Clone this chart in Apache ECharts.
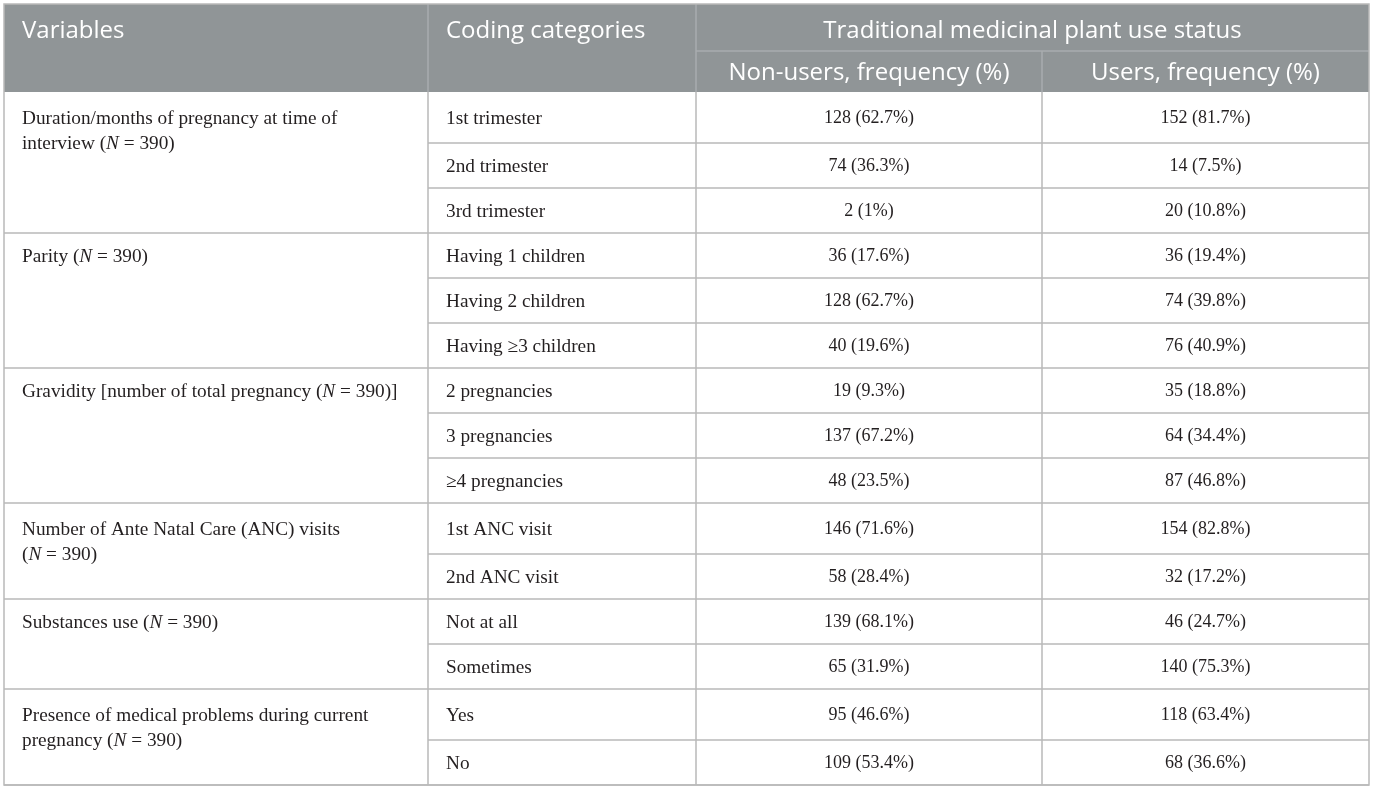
<!DOCTYPE html>
<html>
<head>
<meta charset="utf-8">
<script src="https://cdn.jsdelivr.net/npm/echarts@6/dist/echarts.min.js"></script>
<style>
html,body{margin:0;padding:0;background:#fff;}
#main{width:1375px;height:791px;}
</style>
</head>
<body>
<div id="main"></div>
<script>
// ---- Data ----
const headerTitles = ['Variables', 'Coding categories', 'Traditional medicinal plant use status'];
const subHeaders = ['Non-users, frequency (%)', 'Users, frequency (%)'];
const variableLabels = [
  'Duration/months of pregnancy at time of\ninterview ({i|N} = 390)',
  'Parity ({i|N} = 390)',
  'Gravidity [number of total pregnancy ({i|N} = 390)]',
  'Number of Ante Natal Care (ANC) visits\n({i|N} = 390)',
  'Substances use ({i|N} = 390)',
  'Presence of medical problems during current\npregnancy ({i|N} = 390)'
];
const groupSizes = [3, 3, 3, 2, 2, 2];
const codingCategories = [
  '1st trimester', '2nd trimester', '3rd trimester',
  'Having 1 children', 'Having 2 children', 'Having \u22653 children',
  '2 pregnancies', '3 pregnancies', '\u22654 pregnancies',
  '1st ANC visit', '2nd ANC visit',
  'Not at all', 'Sometimes',
  'Yes', 'No'
];
const nonUsersCount = [128, 74, 2, 36, 128, 40, 19, 137, 48, 146, 58, 139, 65, 95, 109];
const nonUsersPct = ['62.7', '36.3', '1', '17.6', '62.7', '19.6', '9.3', '67.2', '23.5', '71.6', '28.4', '68.1', '31.9', '46.6', '53.4'];
const usersCount = [152, 14, 20, 36, 74, 76, 35, 64, 87, 154, 32, 46, 140, 118, 68];
const usersPct = ['81.7', '7.5', '10.8', '19.4', '39.8', '40.9', '18.8', '34.4', '46.8', '82.8', '17.2', '24.7', '75.3', '63.4', '36.6'];

// ---- Layout ----
const colX = [4, 428, 696, 1042, 1369];
const topY = 4, subLineY = 51, headerBottom = 92;
const baseRowH = 45, tallRowH = 51;
const lineColor = '#b9b9b9';
const headerBg = '#909597';
const headerFont = '"Open Sans", "Noto Sans", sans-serif';
const bodyFont = '"Liberation Serif", "DejaVu Serif", serif';
const bodyColor = '#231f20';
const textSize = 19.3;
const numSize = 18;
const lh = 25;

const elements = [];
elements.push({type:'rect', shape:{x:colX[0], y:topY, width:colX[4]-colX[0], height:headerBottom-topY}, style:{fill:headerBg}, silent:true});
const hdrLine = '#a9adaf';
elements.push({type:'line', shape:{x1:colX[1], y1:topY, x2:colX[1], y2:headerBottom}, style:{stroke:hdrLine, lineWidth:1.5}});
elements.push({type:'line', shape:{x1:colX[2], y1:topY, x2:colX[2], y2:headerBottom}, style:{stroke:hdrLine, lineWidth:1.5}});
elements.push({type:'line', shape:{x1:colX[2], y1:subLineY, x2:colX[4], y2:subLineY}, style:{stroke:hdrLine, lineWidth:1.5}});
elements.push({type:'line', shape:{x1:colX[3], y1:subLineY, x2:colX[3], y2:headerBottom}, style:{stroke:hdrLine, lineWidth:1.5}});

function hText(txt, x, y, align){
  elements.push({type:'text', x:x, y:y, style:{text:txt, fill:'#ffffff', fontFamily:headerFont, fontSize:24, align:align, verticalAlign:'middle'}});
}
hText(headerTitles[0], colX[0]+18, 31, 'left');
hText(headerTitles[1], colX[1]+18, 31, 'left');
hText(headerTitles[2], (colX[2]+colX[4])/2, 31, 'center');
hText(subHeaders[0], (colX[2]+colX[3])/2, 73, 'center');
hText(subHeaders[1], (colX[3]+colX[4])/2, 73, 'center');

const richI = {i:{fontStyle:'italic', fontFamily:bodyFont, fontSize:textSize, fill:bodyColor, lineHeight:lh}};
let y = headerBottom;
let rowIdx = 0;
groupSizes.forEach(function(size, g){
  const label = variableLabels[g];
  const twoLine = label.indexOf('\n') >= 0;
  for (let k = 0; k < size; k++) {
    const h = (k === 0 && twoLine) ? tallRowH : baseRowH;
    const cy = y + h/2;
    if (k === 0) {
      elements.push({type:'text', x:colX[0]+18, y:cy-lh/2+1, style:{text:label, rich:richI, fill:bodyColor, fontFamily:bodyFont, fontSize:textSize, lineHeight:lh, align:'left', verticalAlign:'top'}});
    }
    const i = rowIdx;
    elements.push({type:'text', x:colX[1]+18, y:cy+1, style:{text:codingCategories[i], fill:bodyColor, fontFamily:bodyFont, fontSize:textSize, align:'left', verticalAlign:'middle'}});
    elements.push({type:'text', x:(colX[2]+colX[3])/2, y:cy+1, style:{text:nonUsersCount[i] + ' (' + nonUsersPct[i] + '%)', fill:bodyColor, fontFamily:bodyFont, fontSize:numSize, align:'center', verticalAlign:'middle'}});
    elements.push({type:'text', x:(colX[3]+colX[4])/2, y:cy+1, style:{text:usersCount[i] + ' (' + usersPct[i] + '%)', fill:bodyColor, fontFamily:bodyFont, fontSize:numSize, align:'center', verticalAlign:'middle'}});
    y += h;
    const startX = (k === size-1) ? colX[0] : colX[1];
    elements.push({type:'line', shape:{x1:startX, y1:y, x2:colX[4], y2:y}, style:{stroke:lineColor, lineWidth:1.5}});
    rowIdx++;
  }
});
const bottomY = y;
[1,2,3].forEach(function(c){
  elements.push({type:'line', shape:{x1:colX[c], y1:headerBottom, x2:colX[c], y2:bottomY}, style:{stroke:lineColor, lineWidth:1.5}});
});
elements.push({type:'rect', shape:{x:colX[0], y:topY, width:colX[4]-colX[0], height:bottomY-topY}, style:{fill:'none', stroke:lineColor, lineWidth:1.5}});

const chart = echarts.init(document.getElementById('main'));
chart.setOption({
  animation:false,
  graphic:{elements:elements}
});
</script>
</body>
</html>
